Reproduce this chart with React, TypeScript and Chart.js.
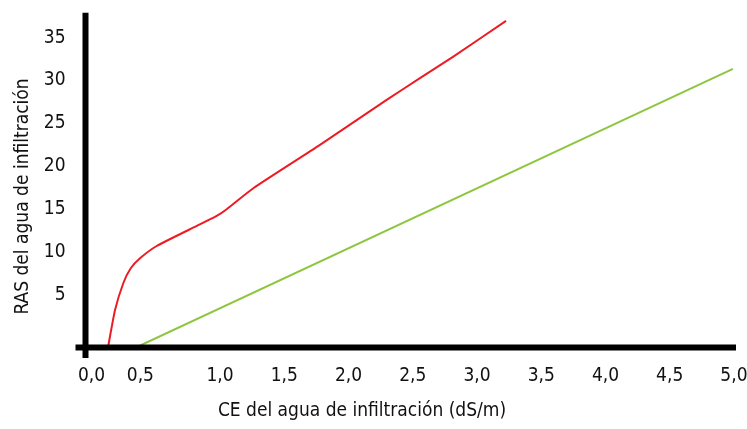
import { useEffect, useRef } from 'react';
import { Chart, registerables } from 'chart.js';

Chart.register(...registerables);

// X axis tick positions (as drawn in the source figure) and their labels
const xTickValues = [0, 0.38, 1, 1.5, 2, 2.5, 3, 3.5, 4, 4.5, 5];
const xTickLabels = ['0,0', '0,5', '1,0', '1,5', '2,0', '2,5', '3,0', '3,5', '4,0', '4,5', '5,0'];
const yTickValues = [5, 10, 15, 20, 25, 30, 35];

const xTitle = 'CE del agua de infiltración (dS/m)';
const yTitle = 'RAS del agua de infiltración';

// Red curve (CE, RAS)
const redCE = [0.128, 0.183, 0.247, 0.305, 0.377, 0.507, 0.767, 0.974, 1.052, 1.259, 1.778, 2.297, 2.556, 2.816, 3.226];
const redRAS = [-1.12, 3.25, 6.37, 8.11, 9.28, 10.71, 12.66, 14.21, 14.99, 17.44, 22.49, 27.74, 30.27, 32.79, 36.95];

// Green line (CE, RAS)
const greenCE = [0.346, 4.992];
const greenRAS = [-1.12, 31.35];

const X_MIN = -0.047;
const X_MAX = 5.016;
const Y_MIN = -1.12;
const Y_MAX = 37.9;

const FONT = "'DejaVu Sans Condensed', 'Liberation Sans Narrow', sans-serif";

const crossAxes = {
  id: 'crossAxes',
  afterDatasetsDraw(chart: any) {
    const { ctx, chartArea } = chart;
    const { left, right, top, bottom } = chartArea;
    ctx.save();
    ctx.strokeStyle = '#000';
    ctx.lineWidth = 6;
    ctx.lineCap = 'butt';
    ctx.beginPath();
    ctx.moveTo(left - 10, bottom);
    ctx.lineTo(right, bottom);
    ctx.moveTo(left, top);
    ctx.lineTo(left, bottom + 10.5);
    ctx.stroke();
    ctx.restore();
  },
};

const axisTitles = {
  id: 'axisTitles',
  afterDraw(chart: any) {
    const { ctx, chartArea } = chart;
    const { left, bottom } = chartArea;
    ctx.save();
    ctx.fillStyle = '#111';
    ctx.font = `19px ${FONT}`;
    ctx.textAlign = 'center';
    ctx.textBaseline = 'middle';
    ctx.fillText(xTitle, left + 276.5, bottom + 63.5);
    ctx.translate(23, bottom - 151);
    ctx.rotate(-Math.PI / 2);
    ctx.fillText(yTitle, 0, 0);
    ctx.restore();
  },
};

export default function App() {
  const ref = useRef<HTMLCanvasElement | null>(null);

  useEffect(() => {
    document.body.style.margin = '0';
    const canvas = ref.current;
    if (!canvas) return;
    const chart = new Chart(canvas, {
      type: 'line',
      data: {
        datasets: [
          {
            label: 'red',
            data: redCE.map((x, i) => ({ x, y: redRAS[i] })),
            borderColor: '#ED1C24',
            borderWidth: 2,
            pointRadius: 0,
            tension: 0.2,
            fill: false,
          },
          {
            label: 'green',
            data: greenCE.map((x, i) => ({ x, y: greenRAS[i] })),
            borderColor: '#8DC63F',
            borderWidth: 2,
            pointRadius: 0,
            tension: 0,
            fill: false,
          },
        ],
      },
      options: {
        animation: false,
        responsive: false,
        devicePixelRatio: 1,
        layout: { padding: { top: 12.7, right: 11, left: 0, bottom: 0 } },
        plugins: { legend: { display: false }, tooltip: { enabled: false } },
        scales: {
          x: {
            type: 'linear',
            min: X_MIN,
            max: X_MAX,
            grid: { display: false, drawTicks: false },
            border: { display: false },
            afterBuildTicks: (scale: any) => {
              scale.ticks = xTickValues.map((v) => ({ value: v }));
            },
            afterFit: (scale: any) => {
              scale.height = 81.5;
              scale.paddingLeft = 0;
              scale.paddingRight = 0;
            },
            ticks: {
              autoSkip: false,
              maxRotation: 0,
              padding: 17,
              color: '#111',
              font: { family: FONT, size: 19 },
              callback: (_v: any, i: number) => xTickLabels[i],
            },
          },
          y: {
            type: 'linear',
            min: Y_MIN,
            max: Y_MAX,
            grid: { display: false, drawTicks: false },
            border: { display: false },
            afterBuildTicks: (scale: any) => {
              scale.ticks = yTickValues.map((v) => ({ value: v }));
            },
            afterFit: (scale: any) => {
              scale.width = 85.5;
              scale.paddingTop = 0;
              scale.paddingBottom = 0;
            },
            ticks: {
              autoSkip: false,
              padding: 20,
              color: '#111',
              font: { family: FONT, size: 19 },
              callback: (v: any) => String(v),
            },
          },
        },
      },
      plugins: [crossAxes, axisTitles],
    });
    return () => chart.destroy();
  }, []);

  return (
    <div style={{ width: 747, height: 429, background: '#fff' }}>
      <canvas ref={ref} width={747} height={429} style={{ display: 'block' }} />
    </div>
  );
}
